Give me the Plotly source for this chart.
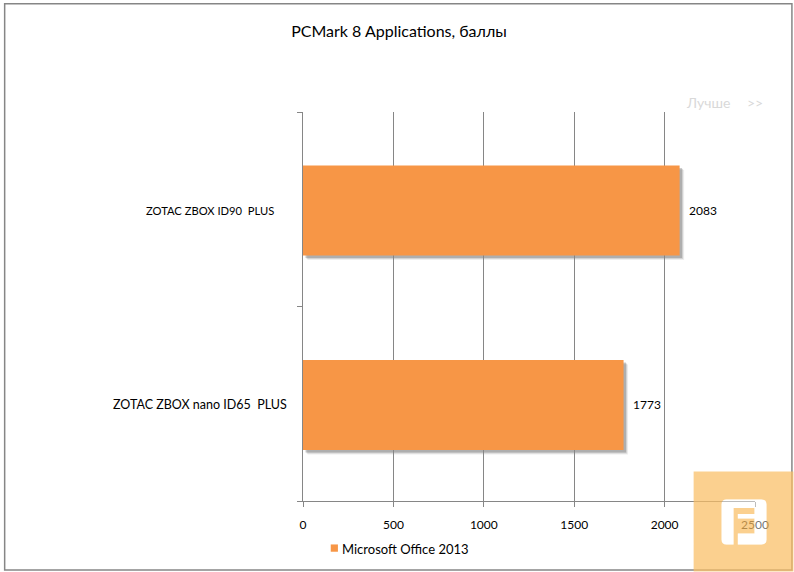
import re
import plotly.graph_objects as go

# данные, снизу вверх как на оси
categories = ["ZOTAC ZBOX nano ID65  PLUS", "ZOTAC ZBOX ID90  PLUS"]
office_2013 = [1773, 2083]
x_ticks = [0, 500, 1000, 1500, 2000, 2500]
series_name = "Microsoft Office 2013"

label_shift = [-14, -27]
label_size = [12.5, 11.2]

W, H = 794, 572
LEFT, RIGHT, TOP, BOTTOM = 302.5, 755.5, 112, 501.5
X_MAX = 2500
BAR_WIDTH = 0.463
BAR_DROP = 0.006               # бары чуть ниже центра категории
ORANGE = "#F79646"
GRID = "#868686"
FONT = "Lato"

plot_w = RIGHT - LEFT
plot_h = BOTTOM - TOP
unit_x = X_MAX / plot_w        # значение на пиксель
unit_y = 2 / plot_h


def px_x(p):
    return (p - LEFT) / plot_w


def px_y(p):
    return (BOTTOM - p) / plot_h


def paper_path(d):
    # путь задан в пикселях картинки, переводим в доли paper
    def conv(m):
        return f"{px_x(float(m[1])):.5f},{px_y(float(m[2])):.5f}"
    return re.sub(r"([\d.]+),([\d.]+)", conv, d)


fig = go.Figure()
fig.add_trace(go.Bar(
    x=office_2013, y=categories, orientation="h", width=BAR_WIDTH,
    offset=-BAR_WIDTH / 2 - BAR_DROP,
    marker=dict(color=ORANGE, line_width=0), showlegend=False, hoverinfo="skip",
    name=series_name,
))

shapes = []
# тень баров
for i, v in enumerate(office_2013):
    for off, op in [(4.5, 0.10), (3.5, 0.18), (2.5, 0.30)]:
        shapes.append(dict(
            type="rect", layer="below", xref="x", yref="y",
            x0=off * unit_x, x1=v + off * unit_x,
            y0=i - BAR_DROP - BAR_WIDTH / 2 - off * unit_y,
            y1=i - BAR_DROP + BAR_WIDTH / 2 - off * unit_y,
            fillcolor=f"rgba(90,90,90,{op})", line_width=0,
        ))
# рамка
shapes.append(dict(
    type="rect", xref="paper", yref="paper", layer="below",
    x0=px_x(3.5), x1=px_x(792.5), y0=px_y(570.5), y1=px_y(3.5),
    line=dict(color=GRID, width=1.5), fillcolor="rgba(0,0,0,0)",
))
# квадратик легенды
shapes.append(dict(
    type="rect", xref="paper", yref="paper", layer="below",
    x0=px_x(330.3), x1=px_x(337.5), y0=px_y(552.3), y1=px_y(545),
    fillcolor=ORANGE, line_width=0,
))
# логотип: плашка с вырезом и белый слой поверх подписи
rounded = ("M 727,500 L 762,500 Q 767,500 767,505 L 767,540 Q 767,545 762,545 "
           "L 727,545 Q 722,545 722,540 L 722,505 Q 722,500 727,500 Z ")
letter = ("M 734,508.5 L 755,508.5 L 755,514.5 L 738.3,514.5 L 738.3,519 L 755,519 L 755,534 "
          "L 738.3,534 L 738.3,545 L 734,545 Z")
plate = "M 694,472 L 794,472 L 794,572 L 694,572 Z "
shapes.append(dict(
    type="path", xref="paper", yref="paper", layer="above",
    path=paper_path(plate + rounded + letter), fillcolor="rgba(250,190,100,0.72)", line_width=0,
))
shapes.append(dict(
    type="path", xref="paper", yref="paper", layer="above",
    path=paper_path(rounded + letter), fillcolor="rgba(255,255,255,0.45)", line_width=0,
))

annotations = []
for i, (name, v) in enumerate(zip(categories, office_2013)):
    annotations.append(dict(
        x=0, y=i - BAR_DROP, xref="x", yref="y", text=name.replace("  ", "\u00a0\u00a0"),
        showarrow=False, xanchor="right", xshift=label_shift[i],
        font=dict(family=FONT, size=label_size[i], color="black"),
    ))
    annotations.append(dict(
        x=v, y=i - BAR_DROP, xref="x", yref="y", text=str(v), showarrow=False,
        xanchor="left", xshift=7, font=dict(family=FONT, size=12, color="black"),
    ))
annotations.append(dict(
    x=px_x(708), y=px_y(102), xref="paper", yref="paper", text="Лучше", showarrow=False,
    xanchor="center", yanchor="middle", font=dict(family=FONT, size=14, color="#D9D9D9"),
))
annotations.append(dict(
    x=px_x(755.5), y=px_y(102), xref="paper", yref="paper", text="&gt;&gt;", showarrow=False,
    xanchor="center", yanchor="middle", font=dict(family=FONT, size=14, color="#D9D9D9"),
))
annotations.append(dict(
    x=px_x(340), y=px_y(549.5), xref="paper", yref="paper", text=series_name, showarrow=False,
    xanchor="left", yanchor="middle", font=dict(family=FONT, size=13, color="black"),
))

fig.update_layout(
    width=W, height=H,
    margin=dict(l=LEFT, r=W - RIGHT, t=TOP, b=H - BOTTOM, pad=0, autoexpand=False),
    paper_bgcolor="white", plot_bgcolor="white",
    font=dict(family=FONT, size=12, color="black"),
    title=dict(text="PCMark 8 Applications, баллы", x=399 / W, y=1 - 31 / H,
               xanchor="center", yanchor="middle", font=dict(family=FONT, size=16, color="black")),
    xaxis=dict(range=[0, X_MAX], tickvals=x_ticks, showgrid=True, gridcolor=GRID, gridwidth=1,
               ticks="outside", ticklen=5, tickcolor=GRID, showline=True, linecolor=GRID,
               zeroline=False, ticklabelstandoff=8, tickfont=dict(family=FONT, size=12, color="black")),
    yaxis=dict(type="category", categoryorder="array", categoryarray=categories, range=[-0.5, 1.5],
               tickson="boundaries", ticks="outside", ticklen=5, tickcolor=GRID, showline=True,
               linecolor=GRID, showgrid=False, zeroline=False, showticklabels=False),
    showlegend=False,
    shapes=shapes, annotations=annotations,
)

fig.write_html("out.html", config=dict(displayModeBar=False),
               post_script="document.body.style.margin='0';")
